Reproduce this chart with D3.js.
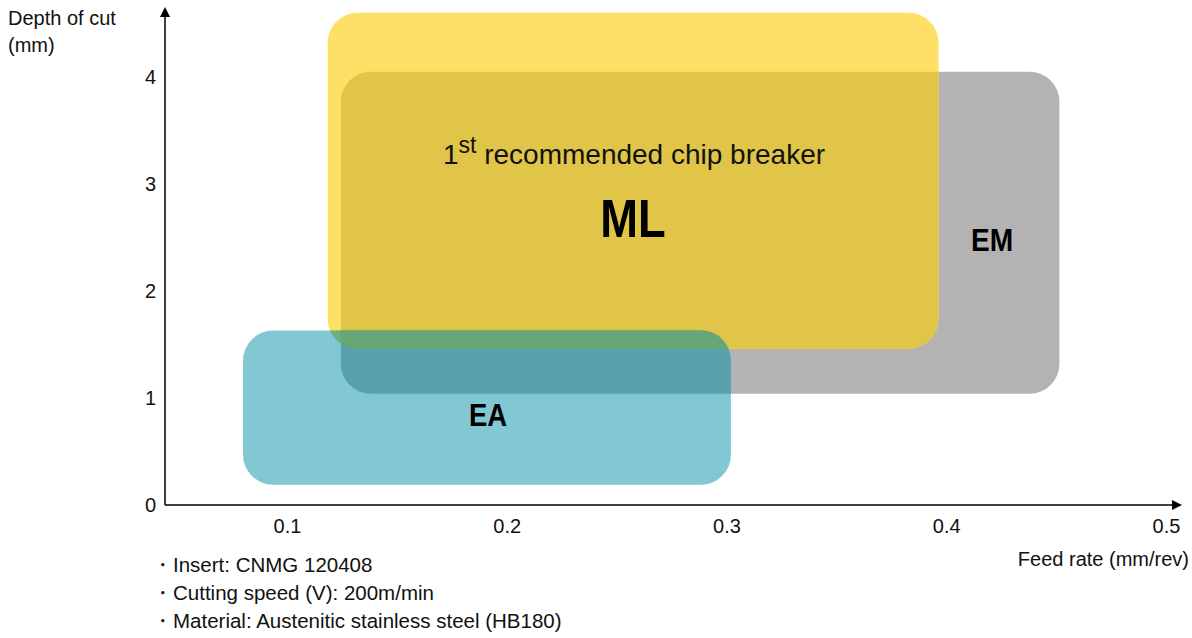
<!DOCTYPE html>
<html><head><meta charset="utf-8">
<script src="https://cdn.jsdelivr.net/npm/d3@7"></script>
<style>body{margin:0;background:#fff}svg{display:block;font-family:"Liberation Sans",Arial,sans-serif}</style>
</head><body>
<svg id="c" width="1192" height="638"></svg>
<script>
// Data
const breakers = ["EM", "ML", "EA"];
const feedMin = [0.1245, 0.1185, 0.08];
const feedMax = [0.4515, 0.3965, 0.302];
const depthMin = [1.04, 1.46, 0.19];
const depthMax = [4.05, 4.60, 1.63];
const colors = ["#b3b3b3", "#ffe066", "#82c8d2"];
const xTicks = [0.1, 0.2, 0.3, 0.4, 0.5];
const yTicks = [0, 1, 2, 3, 4];
const notes = ["・Insert: CNMG 120408", "・Cutting speed (V): 200m/min", "・Material: Austenitic stainless steel (HB180)"];
// overlap colours: [i,j] pair -> colour
const overlapPairs = [[0, 1, "#e0c548"], [0, 2, "#58a0aa"], [1, 2, "#6eae79"]];
const tripleColor = "#68a677";

const svg = d3.select("#c");
const x = d3.scaleLinear().domain([0.1, 0.5]).range([287, 1166]);
const y = d3.scaleLinear().domain([0, 4]).range([505, 77]);
const rx = 30;

const regions = breakers.map((b, i) => ({name: b, x0: feedMin[i], x1: feedMax[i], y0: depthMin[i], y1: depthMax[i], color: colors[i]}));

const defs = svg.append("defs");
function rectAttrs(sel, d) {
  sel.attr("x", x(d.x0)).attr("y", y(d.y1))
     .attr("width", x(d.x1) - x(d.x0)).attr("height", y(d.y0) - y(d.y1))
     .attr("rx", rx).attr("ry", rx);
}
regions.forEach((d, i) => {
  defs.append("clipPath").attr("id", "clip" + i).append("rect").call(rectAttrs, d);
});
defs.append("marker").attr("id", "arrow").attr("viewBox", "0 0 10 10").attr("refX", 0).attr("refY", 5)
  .attr("markerWidth", 11).attr("markerHeight", 10).attr("markerUnits", "userSpaceOnUse").attr("orient", "auto")
  .append("path").attr("d", "M0,0 L10,5 L0,10 Z").attr("fill", "#000");

const g = svg.append("g");
regions.forEach(d => g.append("rect").call(rectAttrs, d).attr("fill", d.color));
overlapPairs.forEach(([a, b, c]) => {
  g.append("rect").call(rectAttrs, regions[a]).attr("fill", c).attr("clip-path", `url(#clip${b})`);
});
g.append("g").attr("clip-path", "url(#clip0)")
  .append("rect").call(rectAttrs, regions[2]).attr("fill", tripleColor).attr("clip-path", "url(#clip1)");

// axes
const x0px = 165;
svg.append("line").attr("x1", x0px).attr("x2", 1172).attr("y1", y(0)).attr("y2", y(0))
  .attr("stroke", "#000").attr("stroke-width", 1.5).attr("marker-end", "url(#arrow)");
svg.append("line").attr("x1", x0px).attr("x2", x0px).attr("y1", y(0)).attr("y2", 17)
  .attr("stroke", "#000").attr("stroke-width", 1.5).attr("marker-end", "url(#arrow)");

const font = "Liberation Sans, Arial, sans-serif";
const xAxis = svg.append("g").attr("transform", `translate(0,${y(0)})`)
  .call(d3.axisBottom(x).tickValues(xTicks).tickSize(0).tickPadding(14).tickFormat(d3.format(".1f")));
xAxis.select(".domain").remove();
xAxis.selectAll("text").attr("font-size", 20).attr("font-family", font).attr("fill", "#111");

const yAxis = svg.append("g").attr("transform", `translate(156,0)`)
  .call(d3.axisLeft(y).tickValues(yTicks).tickSize(0).tickPadding(0).tickFormat(d3.format("d")));
yAxis.select(".domain").remove();
yAxis.selectAll("text").attr("font-size", 20).attr("font-family", font).attr("fill", "#111");

// axis titles
svg.append("text").attr("x", 8).attr("y", 25).attr("font-size", 20).attr("fill", "#111").text("Depth of cut");
svg.append("text").attr("x", 8).attr("y", 52).attr("font-size", 20).attr("fill", "#111").text("(mm)");
svg.append("text").attr("x", 1189).attr("y", 566).attr("text-anchor", "end").attr("font-size", 20).attr("fill", "#111").text("Feed rate (mm/rev)");

notes.forEach((t, i) => {
  svg.append("text").attr("x", 152).attr("y", 572 + i * 28).attr("font-size", 20.5).attr("fill", "#111").text(t);
});

// region labels
const t1 = svg.append("text").attr("x", 634).attr("y", 164).attr("text-anchor", "middle").attr("font-size", 28).attr("fill", "#111");
t1.append("tspan").text("1");
t1.append("tspan").attr("dy", -11).attr("font-size", 23).text("st");
t1.append("tspan").attr("dy", 11).text(" recommended chip breaker");

function boldLabel(txt, cx, by, size, sx) {
  svg.append("text").attr("transform", `translate(${cx},${by}) scale(${sx},1)`)
    .attr("text-anchor", "middle").attr("font-size", size).attr("font-weight", "bold").attr("fill", "#000").text(txt);
}
boldLabel("ML", 633, 237, 54, 0.84);
boldLabel("EM", 992, 251, 32, 0.88);
boldLabel("EA", 488, 426, 32, 0.86);
</script>
</body></html>
